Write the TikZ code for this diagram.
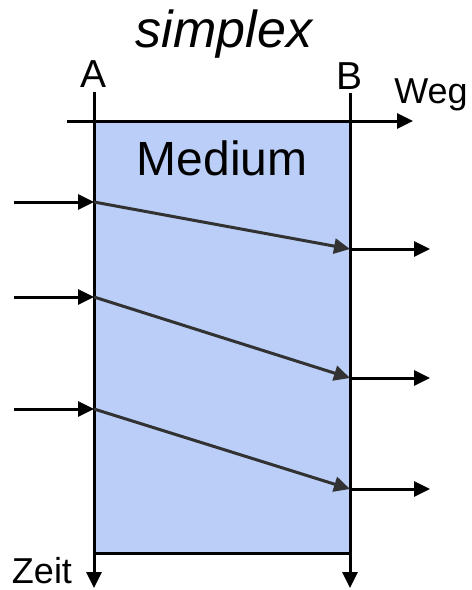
\documentclass[tikz,border=0pt]{standalone}
\usepackage{fontspec}
\setmainfont{Liberation Sans}
\usetikzlibrary{arrows.meta,positioning}
\definecolor{medCol}{RGB}{186,206,247}
\definecolor{sigCol}{RGB}{50,50,50}
\tikzset{
  medbox/.style={draw,line width=3pt,fill=medCol,minimum width=256pt,
                 minimum height=432pt,inner sep=0pt},
  axis/.style={line width=3pt,-{Triangle[length=16pt,width=15pt]}},
  sig/.style={line width=3pt,-{Triangle[length=16pt,width=15pt]}},
  diag/.style={sig,draw=sigCol,-{Triangle[length=16pt,width=15pt,fill=sigCol]}},
  lbl/.style={inner sep=0pt,anchor=base,font=\fontsize{36}{42}\selectfont},
  big/.style={lbl,font=\fontsize{48}{56}\selectfont},
}
\begin{document}
\begin{tikzpicture}[x=1pt,y=-1pt]
  \useasboundingbox (0,0) rectangle (472,590);
  \node[medbox] (med) at (222,337) {};
  \node[big] (medtxt) at (222,175) {Medium};
  \node[big,font=\fontsize{52}{60}\selectfont\itshape] (title) at (224,47) {simplex};
  \node[lbl,font=\fontsize{39}{46}\selectfont] (A) at (94,87) {A};
  \node[lbl,font=\fontsize{39}{46}\selectfont] (B) at (350,89) {B};
  \node[lbl] (weg) at (431,103) {Weg};
  \node[lbl] (zeit) at (42,583) {Zeit};
  % Achsen
  \coordinate (wa) at (67,121);
  \coordinate (wb) at (413,121);
  \coordinate (a0) at (94,92);
  \coordinate (a1) at (94,588);
  \coordinate (b0) at (350,93);
  \coordinate (b1) at (350,588);
  \draw[axis] (wa) -- (wb);
  \draw[axis] (a0) -- (a1);
  \draw[axis] (b0) -- (b1);
  % Signale
  \foreach \i/\ya/\yb in {1/202/249,2/297/378,3/409/489}{
    \coordinate (in\i) at (14,\ya);
    \coordinate (p\i) at (94,\ya);
    \coordinate (q\i) at (350,\yb);
    \coordinate (out\i) at (430,\yb);
    \draw[sig] (in\i) -- (p\i);
    \draw[diag] (p\i) -- (q\i);
    \draw[sig] (q\i) -- (out\i);
  }
\end{tikzpicture}
\end{document}
